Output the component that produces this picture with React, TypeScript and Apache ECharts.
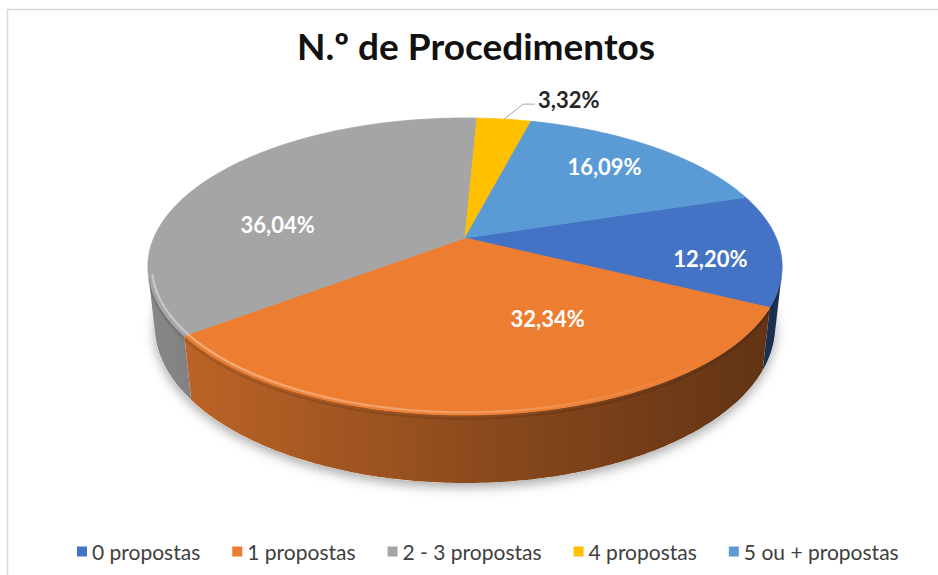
import React, { useEffect, useRef } from "react";
import * as echarts from "echarts";

// ---------- data ----------
const TITLE = "N.º de Procedimentos";
const CATEGORIES = ["0 propostas", "1 propostas", "2 - 3 propostas", "4 propostas", "5 ou + propostas"];
const VALUES = [12.2, 32.34, 36.04, 3.32, 16.09];
const COLORS = ["#4472C4", "#ED7D31", "#A5A5A5", "#FFC000", "#5B9BD5"];

// ---------- layout (3D view of the pie) ----------
const VIEW = { cx: 465, cy: 238, f: 1440, d: 4.627, tilt: 27.36, h: 0.218, firstAngle: 72.5 };
// label placement: angle offset from slice middle (deg) and radius fraction; outside=true -> leader line
const LABEL_LAYOUT = [
  { dAng: 6, r: 0.78, outside: false },
  { dAng: -20, r: 0.56, outside: false },
  { dAng: -19, r: 0.62, outside: false },
  { dAng: 0, r: 1, outside: true },
  { dAng: -1.5, r: 0.74, outside: false },
];
const FONT = "Lato";

const RAD = Math.PI / 180;
const S = Math.sin(VIEW.tilt * RAD);
const C = Math.cos(VIEW.tilt * RAD);

function project(thetaDeg: number, r: number, y: number): number[] {
  const t = thetaDeg * RAD;
  const u = r * Math.sin(t);
  const v = r * Math.cos(t);
  const yc = y * C + v * S;
  const zc = VIEW.d + v * C - y * S;
  return [VIEW.cx + (VIEW.f * u) / zc, VIEW.cy - (VIEW.f * yc) / zc];
}

function arc(a: number, b: number, r: number, y: number): number[][] {
  const n = Math.max(2, Math.ceil(Math.abs(b - a) / 0.75));
  const pts: number[][] = [];
  for (let k = 0; k <= n; k++) pts.push(project(a + ((b - a) * k) / n, r, y));
  return pts;
}

function shade(hex: string, f: number): string {
  const n = parseInt(hex.slice(1), 16);
  const r = Math.round(((n >> 16) & 255) * f);
  const g = Math.round(((n >> 8) & 255) * f);
  const b = Math.round((n & 255) * f);
  return `rgb(${r},${g},${b})`;
}

function fmtPct(v: number): string {
  return v.toFixed(2).replace(".", ",") + "%";
}

export default function App() {
  const ref = useRef<HTMLDivElement>(null);

  useEffect(() => {
    if (!ref.current) return;
    const chart = echarts.init(ref.current, null, { renderer: "svg" });

    const total = VALUES.reduce((a, b) => a + b, 0);
    const starts: number[] = [];
    let acc = 0;
    for (const v of VALUES) {
      starts.push(VIEW.firstAngle + (acc / total) * 360);
      acc += v;
    }
    // side wall visible where cos(theta) < -1/(d*cos(tilt))
    const lim = Math.acos(-1 / (VIEW.d * C)) / RAD;
    const xL = VIEW.cx - 320;
    const xR = VIEW.cx + 320;

    const visibleParts = (a: number, b: number) => {
      const out: number[][] = [];
      for (const k of [0, 360]) {
        const lo = Math.max(a, lim + k);
        const hi = Math.min(b, 360 - lim + k);
        if (hi > lo) out.push([lo, hi]);
      }
      return out;
    };

    const sliceSeries = CATEGORIES.map((name, i) => ({
      type: "custom",
      name,
      coordinateSystem: "none",
      data: [[VALUES[i]]],
      itemStyle: { color: COLORS[i] },
      renderItem: (_params: any, api: any) => {
        const value = api.value(0) as number;
        const a0 = ((starts[i] % 360) + 360) % 360;
        const a1 = a0 + (value / total) * 360;
        const color = COLORS[i];
        const children: any[] = [];

        // side walls
        for (const [lo, hi] of visibleParts(a0, a1)) {
          const top = arc(lo, hi, 1, 0);
          const bot = arc(lo, hi, 1, -VIEW.h).reverse();
          children.push({
            type: "polygon",
            z2: 2,
            shape: { points: top.concat(bot) },
            style: {
              fill: new echarts.graphic.LinearGradient(
                xL, 0, xR, 0,
                [
                  { offset: 0, color: shade(color, 0.82) },
                  { offset: 0.5, color: shade(color, 0.6) },
                  { offset: 1, color: shade(color, 0.4) },
                ],
                true
              ),
              stroke: "none",
            },
          });
        }

        // top face
        const topPts = [project(0, 0, 0)].concat(arc(a0, a1, 1, 0));
        children.push({
          type: "polygon",
          z2: 10,
          shape: { points: topPts },
          style: { fill: color, stroke: color, lineWidth: 0.8 },
        });

        // rim highlight (bevel)
        for (const [lo, hi] of visibleParts(a0, a1)) {
          children.push({
            type: "polyline",
            z2: 12,
            shape: { points: arc(lo, hi, 0.988, 0) },
            style: {
              fill: "none",
              lineWidth: 2.2,
              stroke: new echarts.graphic.LinearGradient(
                xL, 0, xR, 0,
                [
                  { offset: 0, color: "rgba(255,255,255,0.4)" },
                  { offset: 0.5, color: "rgba(255,255,255,0.25)" },
                  { offset: 0.9, color: "rgba(255,255,255,0)" },
                ],
                true
              ),
            },
          });
          children.push({
            type: "polyline",
            z2: 11,
            shape: { points: arc(lo, hi, 1, -0.012) },
            style: { fill: "none", lineWidth: 2, stroke: "rgba(0,0,0,0.12)" },
          });
        }

        // label
        const lay = LABEL_LAYOUT[i];
        const mid = (a0 + a1) / 2;
        const text = fmtPct(value);
        if (lay.outside) {
          const p0 = project(mid, 1, 0);
          const p1 = [p0[0] + 19, p0[1] - 15];
          const p2 = [p1[0] + 12, p1[1]];
          children.push({
            type: "polyline",
            z2: 20,
            shape: { points: [p0, p1, p2] },
            style: { fill: "none", stroke: "#A6A6A6", lineWidth: 1 },
          });
          children.push({
            type: "text",
            z2: 30,
            style: {
              text,
              x: p2[0] + 3,
              y: p2[1] - 5,
              fill: "#262626",
              fontSize: 22,
              fontWeight: "bold",
              fontFamily: FONT,
              align: "left",
              textAlign: "left",
              verticalAlign: "middle",
              textVerticalAlign: "middle",
            },
          });
        } else {
          const p = project(mid + lay.dAng, lay.r, 0);
          children.push({
            type: "text",
            z2: 30,
            style: {
              text,
              x: p[0],
              y: p[1],
              fill: "#FFFFFF",
              fontSize: 22,
              fontWeight: "bold",
              fontFamily: FONT,
              align: "center",
              textAlign: "center",
              verticalAlign: "middle",
              textVerticalAlign: "middle",
            },
          });
        }
        return { type: "group", children };
      },
    }));

    const shadowSeries = {
      type: "custom",
      coordinateSystem: "none",
      silent: true,
      data: [[0]],
      renderItem: () => ({
        type: "polygon",
        z2: 0,
        shape: { points: arc(0, 360, 1, -VIEW.h) },
        style: {
          fill: "#ffffff",
          shadowBlur: 12,
          shadowColor: "rgba(0,0,0,0.35)",
          shadowOffsetY: 4,
        },
      }),
    };

    chart.setOption({
      animation: false,
      backgroundColor: "#ffffff",
      legend: {
        data: CATEGORIES,
        left: 72,
        top: 536,
        icon: "rect",
        itemWidth: 10,
        itemHeight: 10,
        itemGap: 32,
        textStyle: { fontFamily: FONT, fontSize: 21, color: "#404040" },
      },
      graphic: [
        {
          type: "rect",
          silent: true,
          shape: { x: 7.5, y: 9.5, width: 1200, height: 1200 },
          style: { fill: "none", stroke: "#D9D9D9", lineWidth: 1.5 },
        },
        {
          type: "text",
          x: 476,
          y: 45,
          style: {
            text: TITLE,
            fill: "#111111",
            fontSize: 37,
            fontWeight: "bold",
            fontFamily: FONT,
            align: "center",
            textAlign: "center",
            verticalAlign: "middle",
            textVerticalAlign: "middle",
          },
        },
      ],
      series: [shadowSeries, ...sliceSeries],
    });

    return () => chart.dispose();
  }, []);

  return (
    <div
      ref={ref}
      style={{ position: "absolute", left: 0, top: 0, width: 938, height: 575 }}
    />
  );
}
